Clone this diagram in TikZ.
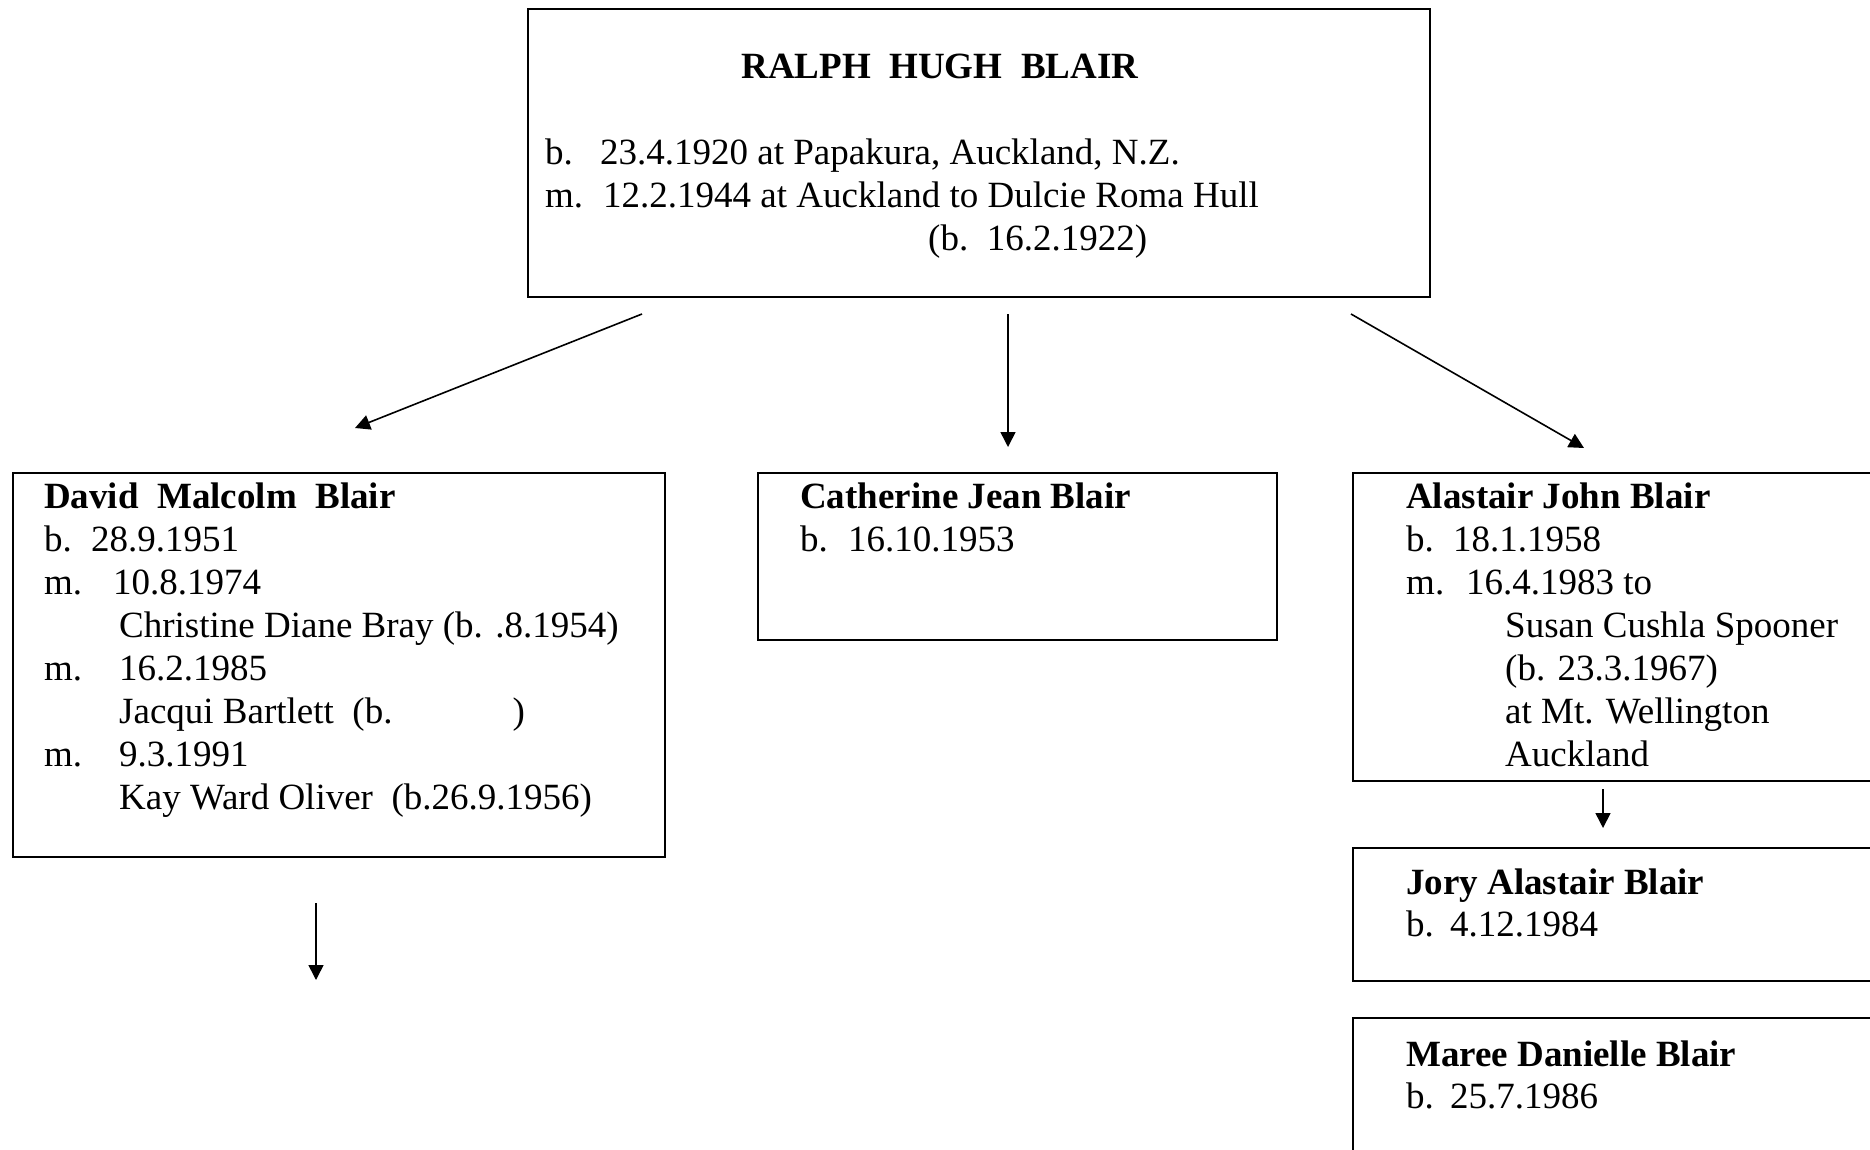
\documentclass[tikz,border=0pt]{standalone}
\usepackage{fontspec}
\setmainfont{Liberation Serif}
\usetikzlibrary{arrows.meta}

\tikzset{
  box/.style={draw, line width=1.8pt, inner sep=0pt, anchor=north west},
  line/.style={anchor=base west, inner sep=0pt},
  kin/.style={line width=1.6pt, -{Triangle[length=15pt,width=15pt]}}
}
\newcommand{\lead}[2]{\makebox[#1][l]{#2}}

\begin{document}
\begin{tikzpicture}[x=1pt, y=-1pt, font=\fontsize{37}{43}\selectfont]
  \clip (0,0) rectangle (1870,1150);
  \fill[white] (0,0) rectangle (1870,1150);

  % boxes
  \node[box, minimum width=902pt, minimum height=288pt] (ralph) at (527,8) {};
  \node[box, minimum width=652pt, minimum height=384pt] (david) at (12,472) {};
  \node[box, minimum width=519pt, minimum height=167pt] (cath) at (757,472) {};
  \node[box, minimum width=560pt, minimum height=308pt] (alas) at (1352,472) {};
  \node[box, minimum width=560pt, minimum height=133pt] (jory) at (1352,847) {};
  \node[box, minimum width=560pt, minimum height=160pt] (maree) at (1352,1017) {};

  % Ralph
  \node[anchor=base, inner sep=0pt] (r0) at (940,79) {\textbf{RALPH\ \ HUGH\ \ BLAIR}};
  \node[line] (r1) at (545,165) {\lead{55pt}{b.}23.4.1920 at Papakura, Auckland, N.Z.};
  \node[line] (r2) at (545,208) {\lead{58pt}{m.}12.2.1944 at Auckland to Dulcie Roma Hull};
  \node[line] (r3) at (928,251) {(b.\ \ 16.2.1922)};

  % David
  \node[line] (d0) at (44,508) {\textbf{David\ \ Malcolm\ \ Blair}};
  \node[line] (d1) at (44,551) {\lead{47pt}{b.}28.9.1951};
  \node[line] (d2) at (44,594) {\lead{69pt}{m.}10.8.1974};
  \node[line] (d3) at (119,637) {Christine Diane Bray (b. .8.1954)};
  \node[line] (d4) at (44,680) {\lead{75pt}{m.}16.2.1985};
  \node[line] (d5) at (119,723) {Jacqui Bartlett\ \ (b.\hspace{120pt})};
  \node[line] (d6) at (44,766) {\lead{75pt}{m.}9.3.1991};
  \node[line] (d7) at (119,809) {Kay Ward Oliver\ \ (b.26.9.1956)};

  % Catherine
  \node[line] (c0) at (800,508) {\textbf{Catherine Jean Blair}};
  \node[line] (c1) at (800,551) {\lead{48pt}{b.}16.10.1953};

  % Alastair
  \node[line] (a0) at (1406,508) {\textbf{Alastair John Blair}};
  \node[line] (a1) at (1406,551) {\lead{47pt}{b.}18.1.1958};
  \node[line] (a2) at (1406,594) {\lead{60pt}{m.}16.4.1983 to};
  \node[line] (a3) at (1505,637) {Susan Cushla Spooner};
  \node[line] (a4) at (1505,680) {(b. 23.3.1967)};
  \node[line] (a5) at (1505,723) {at Mt. Wellington};
  \node[line] (a6) at (1505,766) {Auckland};

  % Jory, Maree
  \node[line] (j0) at (1406,894) {\textbf{Jory Alastair Blair}};
  \node[line] (j1) at (1406,936) {\lead{44pt}{b.}4.12.1984};
  \node[line] (m0) at (1406,1066) {\textbf{Maree Danielle Blair}};
  \node[line] (m1) at (1406,1108) {\lead{44pt}{b.}25.7.1986};

  % arrow ends
  \coordinate (rl) at (642,314);
  \coordinate (rm) at (1008,314);
  \coordinate (rr) at (1351,314);
  \coordinate (dt) at (355,428);
  \coordinate (ct) at (1008,447);
  \coordinate (at) at (1584,448);
  \coordinate (ds) at (316,903);
  \coordinate (de) at (316,980);
  \coordinate (as) at (1603,789);
  \coordinate (jt) at (1603,828);

  \draw[kin] (rl) -- (dt);
  \draw[kin] (rm) -- (ct);
  \draw[kin] (rr) -- (at);
  \draw[kin] (ds) -- (de);
  \draw[kin] (as) -- (jt);
\end{tikzpicture}
\end{document}
